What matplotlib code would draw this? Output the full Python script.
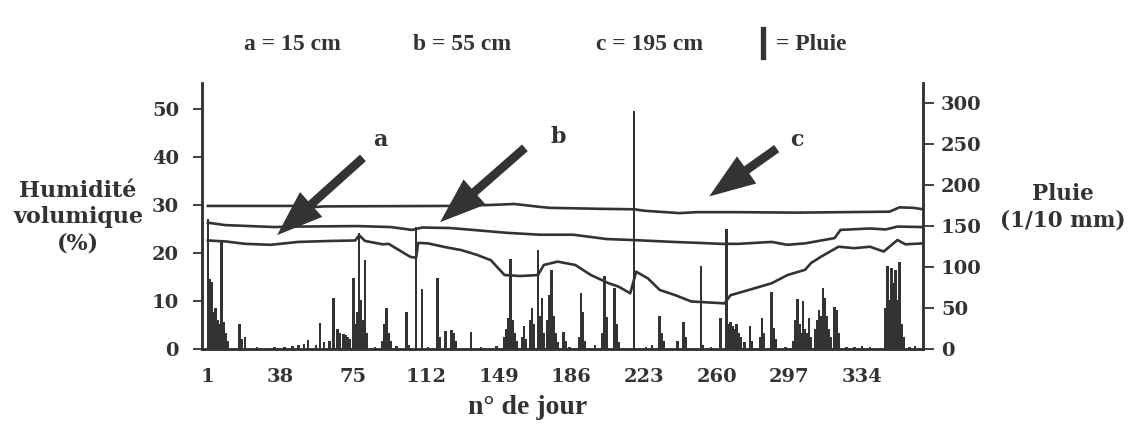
import matplotlib.pyplot as plt
from matplotlib.patches import FancyArrowPatch

W, H = 1129, 441

# Soil moisture (% vol.), depth a = 15 cm
days_a = [1, 10, 20, 33, 47, 63, 76, 78, 81, 90, 93, 104, 107, 108, 113, 122, 130,
          138, 145, 152, 160, 169, 172, 179, 188, 196, 205, 210, 216, 219, 225, 231,
          239, 247, 264, 267, 273, 288, 296, 305, 308, 313, 322, 330, 338, 345, 352,
          356, 365]
hum_a = [22.6, 22.4, 21.9, 21.7, 22.3, 22.5, 22.6, 23.7, 22.5, 21.8, 21.9, 19.2,
         19.0, 22.1, 22.0, 21.2, 20.6, 19.6, 18.5, 15.4, 15.2, 15.4, 17.5, 18.2, 17.5,
         15.4, 13.7, 13.0, 11.6, 16.1, 14.7, 12.3, 11.2, 9.9, 9.5, 11.2, 11.9, 13.7,
         15.4, 16.5, 17.9, 19.2, 21.3, 21.0, 21.3, 20.3, 22.7, 21.8, 22.0]

# depth b = 55 cm
days_b = [1, 10, 35, 48, 77, 94, 105, 110, 124, 136, 153, 170, 187, 204, 217, 238,
          251, 262, 271, 288, 296, 305, 320, 323, 338, 346, 352, 365]
hum_b = [26.3, 25.8, 25.4, 25.5, 25.6, 25.4, 24.8, 25.3, 25.2, 24.8, 24.2, 23.8,
         23.8, 22.9, 22.7, 22.3, 22.1, 21.9, 21.9, 22.3, 21.7, 22.0, 23.1, 24.8,
         25.1, 24.9, 25.5, 25.4]

# depth c = 195 cm
days_c = [1, 45, 50, 60, 125, 145, 157, 170, 175, 200, 218, 223, 241, 250, 270,
          300, 348, 353, 360, 365]
hum_c = [29.8, 29.8, 29.4, 29.7, 29.8, 30.0, 30.2, 29.6, 29.4, 29.2, 29.1, 28.8,
         28.3, 28.5, 28.5, 28.4, 28.6, 29.5, 29.4, 29.1]

# Daily rainfall (1/10 mm)
rain_days = [1, 2, 3, 4, 5, 6, 7, 8, 9, 10, 11, 17, 18, 20, 26, 35, 40, 44, 47, 50,
             52, 56, 58, 60, 63, 65, 67, 68, 70, 71, 72, 73, 75, 76, 77, 78, 79, 80,
             81, 82, 86, 90, 91, 92, 93, 94, 97, 102, 103, 107, 110, 113, 118, 119,
             122, 125, 126, 127, 135, 140, 148, 152, 153, 154, 155, 156, 157, 158,
             161, 162, 163, 165, 166, 167, 169, 170, 171, 172, 174, 175, 176, 177,
             178, 179, 182, 183, 185, 190, 191, 192, 193, 198, 202, 203, 204, 208,
             209, 210, 218, 224, 227, 231, 232, 233, 240, 243, 244, 252, 253, 257,
             262, 265, 266, 267, 268, 269, 270, 271, 272, 274, 277, 278, 282, 283,
             284, 288, 289, 290, 295, 299, 300, 301, 302, 303, 304, 305, 306, 307,
             308, 310, 311, 312, 313, 314, 315, 316, 317, 318, 320, 321, 322, 326,
             330, 334, 338, 346, 347, 348, 349, 350, 351, 352, 353, 354, 355, 358,
             361]
rain_vals = [159, 85, 82, 45, 50, 35, 30, 131, 33, 20, 10, 30, 12, 15, 3, 3, 3, 4,
             5, 6, 11, 5, 32, 8, 10, 62, 24, 20, 18, 17, 15, 12, 87, 30, 45, 141, 60,
             35, 109, 20, 3, 10, 30, 50, 20, 10, 4, 45, 5, 149, 73, 3, 87, 15, 22,
             23, 20, 10, 21, 3, 4, 15, 25, 38, 110, 35, 20, 10, 15, 28, 12, 35, 50,
             30, 121, 40, 62, 20, 35, 66, 96, 40, 20, 8, 21, 10, 3, 15, 68, 45, 10,
             5, 20, 89, 39, 74, 30, 8, 290, 3, 5, 40, 20, 10, 10, 33, 15, 101, 5, 3,
             38, 146, 30, 33, 28, 25, 30, 20, 15, 8, 28, 10, 15, 38, 20, 70, 26, 12,
             3, 10, 35, 61, 30, 20, 59, 25, 20, 38, 15, 25, 35, 47, 40, 75, 62, 40,
             25, 15, 51, 48, 20, 3, 3, 4, 3, 50, 101, 60, 99, 80, 96, 60, 106, 30,
             15, 3, 4]

x_ticks = [1, 38, 75, 112, 149, 186, 223, 260, 297, 334]
hum_ticks = [0, 10, 20, 30, 40, 50]
rain_ticks = [0, 50, 100, 150, 200, 250, 300]

ink = '#333333'
plt.rcParams['font.family'] = 'DejaVu Serif'
plt.rcParams['font.weight'] = 'bold'


def fpos(px, py):
    # pixel position (from top-left) -> figure fraction
    return px / W, 1 - py / H


fig = plt.figure(figsize=(W / 100, H / 100), dpi=100)
ax = fig.add_axes([202 / W, 1 - 349 / H, (923 - 202) / W, (349 - 83) / H])
ax2 = ax.twinx()

# rain bars on the right axis
ax2.bar(rain_days, rain_vals, width=1.3, color=ink, linewidth=0)

# moisture curves on the left axis
for d, v in [(days_a, hum_a), (days_b, hum_b), (days_c, hum_c)]:
    ax.plot(d, v, color=ink, lw=1.9)

ax.set_xlim(-2, 365)
ax.set_ylim(0, 55.4)
ax2.set_ylim(0, 324.5)

ax.set_xticks(x_ticks)
ax.set_yticks(hum_ticks)
ax2.set_yticks(rain_ticks)

ax.tick_params(axis='x', length=0, pad=14, labelsize=14, colors=ink)
ax.tick_params(axis='y', direction='out', length=6.5, width=1.3, pad=10,
               labelsize=14, colors=ink)
ax2.tick_params(axis='y', direction='out', length=8, width=1.3, pad=5,
                labelsize=14, colors=ink)

for a in (ax, ax2):
    a.spines['top'].set_visible(False)
    for s in ('left', 'right', 'bottom'):
        a.spines[s].set_linewidth(1.8)
        a.spines[s].set_color(ink)
    a.set_facecolor('none')

# axis titles
fig.text(*fpos(78, 217), 'Humidité\nvolumique\n(%)', ha='center', va='center',
         fontsize=16, color=ink, linespacing=1.25)
fig.text(*fpos(1063, 207), 'Pluie\n(1/10 mm)', ha='center', va='center',
         fontsize=15.5, color=ink, linespacing=1.25)
fig.text(*fpos(528, 407), 'n° de jour', ha='center', va='center', fontsize=20,
         color=ink, family='Liberation Serif')

# legend line at the top
for txt, cx in [('a = 15 cm', 292), ('b = 55 cm', 462), ('c = 195 cm', 650)]:
    fig.text(*fpos(cx, 45), txt, ha='center', va='center', fontsize=17,
             color=ink, family='Liberation Serif')
fig.add_artist(plt.Line2D([763 / W, 763 / W], [1 - 29 / H, 1 - 57 / H], lw=3.8,
                          color=ink, transform=fig.transFigure))
fig.text(*fpos(776, 45), '= Pluie', ha='left', va='center', fontsize=17,
         color=ink, family='Liberation Serif')

# arrows pointing at the curves
arrows = [('a', (365, 156), (275, 237), (380, 140)),
          ('b', (527, 146), (438, 224), (558, 137)),
          ('c', (779, 147), (707, 198), (797, 140))]
for lab, tail, tip, lpos in arrows:
    fig.add_artist(FancyArrowPatch(
        fpos(*tail), fpos(*tip), transform=fig.transFigure,
        arrowstyle='simple,head_length=2.2,head_width=1.6,tail_width=0.42',
        mutation_scale=15, color=ink, lw=0))
    fig.text(*fpos(*lpos), lab, ha='center', va='center', fontsize=16, color=ink)

fig.savefig('out.png', dpi=100)
